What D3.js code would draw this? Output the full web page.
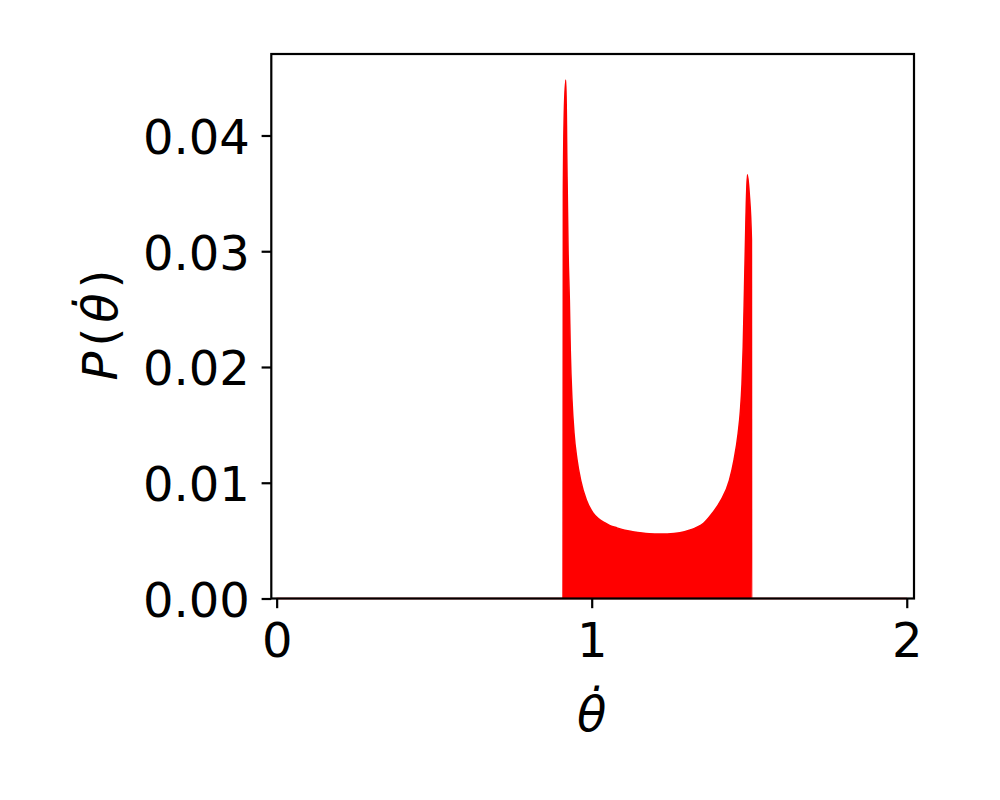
<!DOCTYPE html>
<html>
<head>
<meta charset="utf-8">
<script src="https://cdn.jsdelivr.net/npm/d3@7"></script>
<style>
  html, body { margin: 0; padding: 0; background: #fff; }
  svg { display: block; }
  text { font-family: "DejaVu Sans", sans-serif; fill: #000; }
</style>
</head>
<body>
<svg id="chart" width="1000" height="800"></svg>
<script>
// Data (theta-dot values and probability density)
const thetaDot = [0, 0.909, 0.910, 0.913, 0.918, 0.921, 0.925, 0.929, 0.932, 0.9375, 0.9438, 0.9533, 0.965, 0.983, 1.004, 1.021, 1.041, 1.058, 1.08, 1.105, 1.13, 1.16, 1.20, 1.24, 1.28, 1.31, 1.333, 1.355, 1.381, 1.4105, 1.437, 1.452, 1.465, 1.472, 1.477, 1.481, 1.485, 1.489, 1.494, 1.500, 1.507, 1.5075, 2.0];
const probability = [0, 0, 0.035, 0.042, 0.0448, 0.038, 0.030, 0.0258, 0.0214, 0.0171, 0.0143, 0.0120, 0.0102, 0.0085, 0.0074, 0.0069, 0.00655, 0.0063, 0.0061, 0.0059, 0.00577, 0.00565, 0.00557, 0.00558, 0.00568, 0.0059, 0.00615, 0.0065, 0.0073, 0.0085, 0.0102, 0.0120, 0.0143, 0.0162, 0.0185, 0.0218, 0.0268, 0.032, 0.0366, 0.035, 0.031, 0, 0];
const xTicks = [0, 1, 2];
const yTicks = [0, 0.01, 0.02, 0.03, 0.04];
const xDomain = [-0.017, 2.023];
const yDomain = [0, 0.04704];

(function () {
const svg = d3.select("#chart");
const pLeft = 271.3, pRight = 914, pTop = 54, pBottom = 598.5;
const x = d3.scaleLinear().domain(xDomain).range([pLeft, pRight]);
const y = d3.scaleLinear().domain(yDomain).range([pBottom, pTop]);

const pts = thetaDot.map((v, i) => [v, probability[i]]);

const area = d3.area()
  .x(d => x(d[0]))
  .y0(y(0))
  .y1(d => y(d[1]))
  .curve(d3.curveMonotoneX);

svg.append("path")
  .datum(pts)
  .attr("d", area)
  .attr("fill", "#ff0000")
  .attr("stroke", "#ff0000")
  .attr("stroke-width", 1.5)
  .attr("stroke-linejoin", "round");

const fontSize = 48;
const tickLen = 9.7;
const pad = 9.7;

// X axis
const xAxis = d3.axisBottom(x).tickValues(xTicks).tickFormat(d3.format("d"))
  .tickSizeInner(tickLen).tickSizeOuter(0).tickPadding(pad);
const gx = svg.append("g").attr("transform", `translate(0,${pBottom})`).call(xAxis);
gx.select(".domain").remove();
gx.selectAll(".tick line").attr("stroke", "#000").attr("stroke-width", 2.2);
gx.selectAll(".tick text")
  .attr("font-size", fontSize)
  .attr("font-family", "DejaVu Sans")
  .attr("dy", null)
  .attr("y", 657 - pBottom);

// Y axis
const yAxis = d3.axisLeft(y).tickValues(yTicks).tickFormat(d3.format(".2f"))
  .tickSizeInner(tickLen).tickSizeOuter(0).tickPadding(pad);
const gy = svg.append("g").attr("transform", `translate(${pLeft},0)`).call(yAxis);
gy.select(".domain").remove();
gy.selectAll(".tick line").attr("stroke", "#000").attr("stroke-width", 2.2);
gy.selectAll(".tick text")
  .attr("font-size", fontSize)
  .attr("font-family", "DejaVu Sans")
  .attr("dy", null)
  .attr("y", 18)
  .attr("x", -(tickLen + pad + 2));

// Frame
svg.append("rect")
  .attr("x", pLeft).attr("y", pTop)
  .attr("width", pRight - pLeft).attr("height", pBottom - pTop)
  .attr("fill", "none").attr("stroke", "#000").attr("stroke-width", 2.2);

// X label: theta with combining dot above
svg.append("text").attr("text-anchor", "middle")
  .attr("x", x(1)).attr("y", 731)
  .attr("font-size", fontSize).attr("font-style", "italic")
  .text("θ\u0307");

// Y label: P(theta-dot), rotated
const ylt = svg.append("text").attr("text-anchor", "middle").attr("font-size", fontSize)
  .attr("transform", `translate(117,325) rotate(-90)`);
ylt.append("tspan").attr("font-style", "italic").text("P");
ylt.append("tspan").attr("dx", 5).text("(");
ylt.append("tspan").attr("dx", 5).attr("font-style", "italic").text("θ\u0307");
ylt.append("tspan").attr("dx", 5).text(")");
})();
</script>
</body>
</html>
